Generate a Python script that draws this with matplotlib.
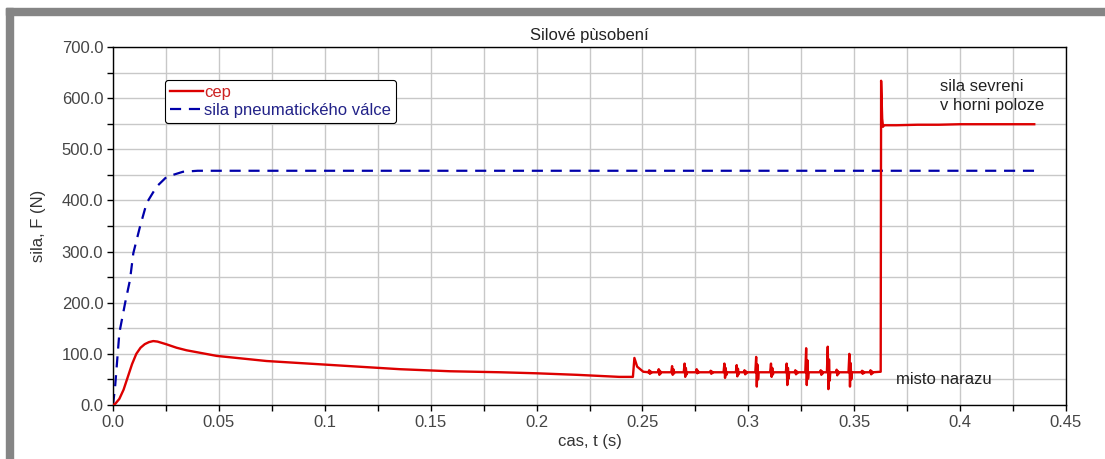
import numpy as np
import matplotlib
matplotlib.use('Agg')
import matplotlib.pyplot as plt
from matplotlib.ticker import MultipleLocator, FixedLocator, FixedFormatter
from matplotlib.patches import Rectangle

plt.rcParams['font.family'] = ['Liberation Sans', 'DejaVu Sans']

# blue dashed - pneumatic cylinder force
t_valce = [0.0, 0.001, 0.003, 0.0057, 0.008, 0.0096, 0.0127, 0.0159, 0.0206,
           0.0253, 0.033, 0.04, 0.1, 0.2, 0.3, 0.435]
F_valce = [0, 36, 141, 199, 244, 297, 348, 395, 427, 446, 456, 458, 458, 458,
           458, 458]

# red - cep, smooth part
t_cep = [0.0, 0.001, 0.003, 0.005, 0.007, 0.009, 0.011, 0.013, 0.015, 0.017,
         0.019, 0.021, 0.025, 0.03, 0.0347, 0.049, 0.0725, 0.104, 0.1355, 0.159,
         0.183, 0.2, 0.219, 0.239, 0.2455, 0.2462, 0.2468, 0.2475, 0.2504, 0.253]
F_cep = [0, 2, 12, 30, 55, 80, 100, 112, 119, 123, 125, 124, 119, 112, 107, 96,
         86, 78, 70, 66, 64, 62, 59, 55, 55, 92, 84, 75, 65, 64]

# spikes on the impact segment: time, top, bottom
spike_t = [0.2535, 0.258, 0.2643, 0.2702, 0.2759, 0.2825, 0.289, 0.2948, 0.2985,
           0.304, 0.311, 0.3184, 0.3225, 0.3276, 0.3345, 0.3378, 0.342, 0.348,
           0.354, 0.358]
spike_hi = [68, 70, 76, 81, 70, 67, 81, 78, 68, 94, 81, 81, 68, 111, 68, 114, 69,
            100, 67, 68]
spike_lo = [61, 59, 59, 55, 62, 61, 53, 56, 60, 36, 55, 39, 60, 39, 59, 31, 58,
            36, 61, 60]
base_F = 64

# jump to clamping force in upper position
t_horni = [0.3625, 0.3627, 0.3632, 0.3636, 0.364, 0.37, 0.38, 0.39, 0.40,
           0.41, 0.42, 0.435]
F_horni = [65, 634, 560, 544, 547, 547, 548, 548, 549, 549, 549, 549]

xtick_pos = [0.0, 0.05, 0.1, 0.15, 0.2, 0.25, 0.3, 0.35, 0.4, 0.45]
xtick_labels = ['0.0', '0.05', '0.1', '0.15', '0.2', '0.25', '0.3', '0.35',
                '0.4', '0.45']
ytick_pos = [0, 100, 200, 300, 400, 500, 600, 700]
ytick_labels = ['0.0', '100.0', '200.0', '300.0', '400.0', '500.0', '600.0',
                '700.0']

# assemble red series
tt = list(t_cep)
ff = list(F_cep)
for st, hi, lo in zip(spike_t, spike_hi, spike_lo):
    tt += [st - 0.0007, st - 0.0003, st, st + 0.0003, st + 0.0006, st + 0.0009]
    ff += [base_F, hi, lo, (hi + base_F) / 2, (lo + base_F) / 2, base_F]
tt += t_horni
ff += F_horni

fig = plt.figure(figsize=(11.05, 4.59), dpi=100)
# grey frame of the original screenshot
fig.patches.append(Rectangle((6/1105, 0), 7/1105, 1 - 8/459, transform=fig.transFigure,
                             color='#858585', zorder=0))
fig.patches.append(Rectangle((6/1105, 1 - 15/459), 1 - 6/1105, 7/459,
                             transform=fig.transFigure, color='#858585', zorder=0))

ax = fig.add_axes([113/1105, 1 - 405/459, 953/1105, 358/459])

ax.plot(tt, ff, color='#dd0000', lw=1.7, label='cep', zorder=3)
ax.plot(t_valce, F_valce, color='#0000aa', lw=1.6, dashes=[5, 3.5],
        label='sila pneumatického válce', zorder=2)

ax.set_xlim(0, 0.45)
ax.set_ylim(0, 700)
ax.xaxis.set_major_locator(FixedLocator(xtick_pos))
ax.xaxis.set_major_formatter(FixedFormatter(xtick_labels))
ax.yaxis.set_major_locator(FixedLocator(ytick_pos))
ax.yaxis.set_major_formatter(FixedFormatter(ytick_labels))
ax.xaxis.set_minor_locator(MultipleLocator(0.025))
ax.yaxis.set_minor_locator(MultipleLocator(50))
ax.grid(True, which='both', color='#c8c8c8', lw=1.0)
ax.set_axisbelow(True)
ax.tick_params(which='both', direction='out', length=4, width=1, color='black',
               labelsize=12, labelcolor='#454545')
ax.tick_params(axis='x', pad=3)
ax.tick_params(axis='y', pad=3)
for s in ax.spines.values():
    s.set_linewidth(1.0)

ax.set_title('Silové pùsobení', fontsize=12, pad=5, color='#222222')
ax.set_xlabel('cas, t (s)', fontsize=12, labelpad=3, color='#333333')
ax.set_ylabel('sila, F (N)', fontsize=12, labelpad=11, color='#333333')

ax.text(0.3905, 604, 'sila sevreni\nv horni poloze', fontsize=12, va='center',
        ha='left', linespacing=1.35, color='#222222')
ax.text(0.3697, 49, 'misto narazu', fontsize=12, va='center', ha='left',
        color='#222222')

leg = ax.legend(loc='upper left', bbox_to_anchor=(0.0546, 0.908), borderaxespad=0,
                fontsize=12, handlelength=2.0, handletextpad=0.05, labelspacing=0.2,
                fancybox=True, framealpha=1, edgecolor='black', borderpad=0.3)
leg.get_frame().set_linewidth(0.8)
for txt, col in zip(leg.get_texts(), ['#cc2222', '#222288']):
    txt.set_color(col)

fig.savefig('out.png', dpi=100)
